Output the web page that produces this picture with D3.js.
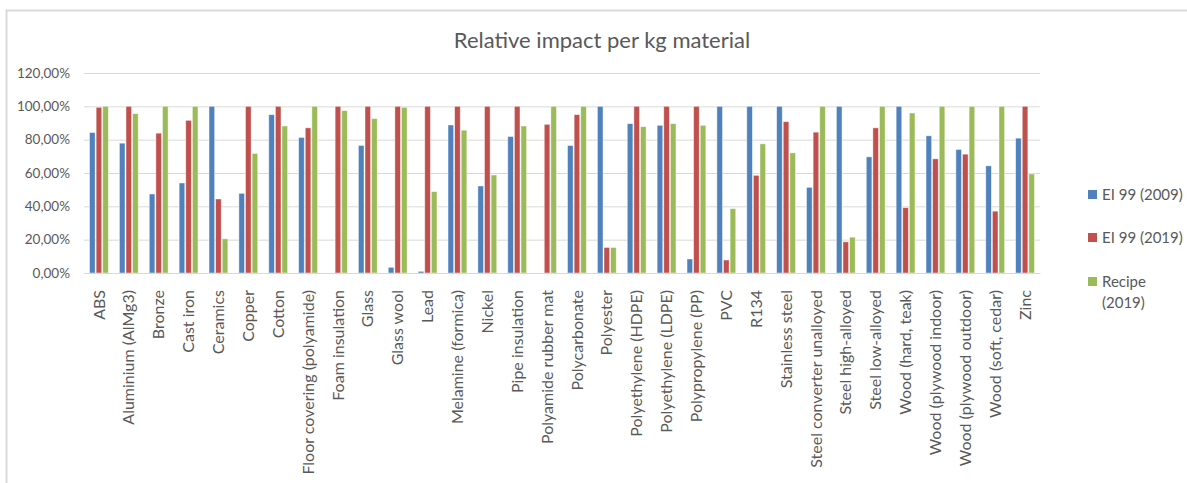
<!doctype html>
<html lang="en">
<head>
    <title>Relative impact per kg material</title>
    <script src="https://d3js.org/d3.v7.min.js"></script>
    <style>
        body { margin: 0; background: #fff; }
        text { font-family: Lato, "Open Sans", sans-serif; fill: #595959; }
    </style>
</head>
<body>
    <script>
       // data
       const categories = ['ABS', 'Aluminium (AlMg3)', 'Bronze', 'Cast iron', 'Ceramics', 'Copper', 'Cotton',
           'Floor covering (polyamide)', 'Foam insulation', 'Glass', 'Glass wool', 'Lead', 'Melamine (formica)',
           'Nickel', 'Pipe insulation', 'Polyamide rubber mat', 'Polycarbonate', 'Polyester', 'Polyethylene (HDPE)',
           'Polyethylene (LDPE)', 'Polypropylene (PP)', 'PVC', 'R134', 'Stainless steel', 'Steel converter unalloyed',
           'Steel high-alloyed', 'Steel low-alloyed', 'Wood (hard, teak)', 'Wood (plywood indoor)',
           'Wood (plywood outdoor)', 'Wood (soft, cedar)', 'Zinc'];

       const ei99_2009 = [84.3, 77.9, 47.4, 54.0, 100, 47.8, 95.0, 81.3, 0, 76.5, 3.4, 1.0, 88.8, 52.2, 81.9, 0,
           76.5, 100, 89.6, 88.6, 8.4, 100, 100, 100, 51.4, 100, 69.7, 100, 82.3, 74.1, 64.3, 80.9];
       const ei99_2019 = [99.4, 100, 83.9, 91.6, 44.4, 100, 100, 87.1, 100, 100, 100, 100, 100, 100, 100, 89.2,
           95.0, 15.3, 100, 100, 100, 7.8, 58.6, 90.8, 84.5, 18.7, 87.1, 39.2, 68.5, 71.3, 37.1, 100];
       const recipe_2019 = [100, 95.6, 100, 100, 20.5, 71.7, 88.2, 100, 97.4, 92.6, 99.4, 48.8, 85.7, 58.8, 88.2, 100,
           100, 15.3, 87.8, 89.6, 88.6, 38.6, 77.5, 72.1, 100, 21.5, 100, 96.0, 100, 100, 100, 59.4];

       const seriesNames = ['EI 99 (2009)', 'EI 99 (2019)', 'Recipe (2019)'];
       const seriesColors = ['#4F81BD', '#C0504D', '#9BBB59'];
       const yTicks = [0, 20, 40, 60, 80, 100, 120];

       const width = 1187, height = 483;
       const plotLeft = 84, plotRight = 1040, plotTop = 73, plotBottom = 273;

       const svg = d3.select('body').append('svg')
           .attr('width', width).attr('height', height);

       // chart border (left + top only visible)
       svg.append('path')
           .attr('d', `M6.5,${height} V10.5 H${width}`)
           .attr('fill', 'none').attr('stroke', '#D9D9D9').attr('stroke-width', 2);

       svg.append('text')
           .attr('x', 602).attr('y', 48)
           .attr('text-anchor', 'middle')
           .style('font-size', '22px')
           .text('Relative impact per kg material');

       const x = d3.scaleBand().domain(categories).range([plotLeft, plotRight]).paddingInner(0.37).paddingOuter(0.185);
       const xs = d3.scaleBand().domain(d3.range(3)).range([0, x.bandwidth()]).paddingInner(0.15);
       const y = d3.scaleLinear().domain([0, 120]).range([plotBottom, plotTop]);

       // gridlines + y labels
       const yAxis = svg.append('g')
           .attr('transform', `translate(${plotLeft},0)`)
           .call(d3.axisLeft(y).tickValues(yTicks)
               .tickSize(-(plotRight - plotLeft))
               .tickFormat(d => d3.format('.2f')(d).replace('.', ',') + '%'));
       yAxis.select('.domain').remove();
       yAxis.selectAll('line').attr('stroke', '#D9D9D9');
       yAxis.selectAll('text').attr('x', -14).style('font-size', '13.5px').style('fill', '#595959');

       const data = [ei99_2009, ei99_2019, recipe_2019];
       data.forEach((vals, s) => {
           svg.append('g').selectAll('rect').data(vals).enter().append('rect')
               .attr('x', (d, i) => x(categories[i]) + xs(s))
               .attr('width', xs.bandwidth())
               .attr('y', d => y(d))
               .attr('height', d => y(0) - y(d))
               .attr('fill', seriesColors[s])
               .attr('stroke', d => d > 0 ? 'rgba(255,255,255,0.55)' : 'none')
               .attr('stroke-width', 0.8);
       });

       // x axis labels (rotated)
       const xAxis = svg.append('g')
           .attr('transform', `translate(0,${plotBottom})`)
           .call(d3.axisBottom(x).tickSize(0));
       xAxis.select('.domain').attr('stroke', '#D9D9D9');
       xAxis.selectAll('text')
           .style('font-size', '16px').style('fill', '#595959')
           .attr('text-anchor', 'end')
           .attr('transform', 'rotate(-90)')
           .attr('x', -17).attr('y', 0).attr('dy', '0.35em');

       // legend
       const legendRows = [[195], [238], [282, 303]];
       const legendText = [['EI 99 (2009)'], ['EI 99 (2019)'], ['Recipe', '(2019)']];
       legendRows.forEach((ys, i) => {
           svg.append('rect')
               .attr('x', 1088).attr('y', ys[0] - 5).attr('width', 9).attr('height', 9)
               .attr('fill', seriesColors[i]);
           ys.forEach((yy, j) => {
               svg.append('text')
                   .attr('x', 1102).attr('y', yy).attr('dy', '0.35em')
                   .style('font-size', '15px')
                   .text(legendText[i][j]);
           });
       });
    </script>
</body>
</html>
